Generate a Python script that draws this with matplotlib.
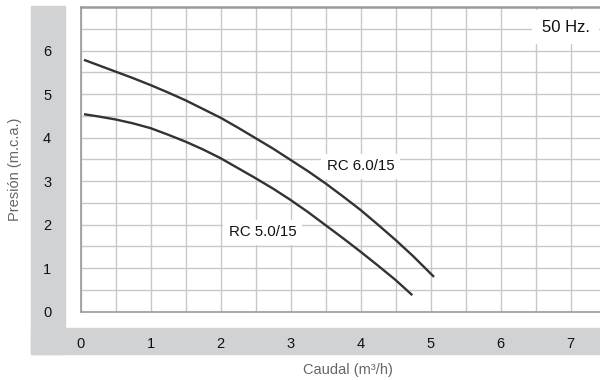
import matplotlib
matplotlib.use("Agg")
import matplotlib.pyplot as plt
from matplotlib.patches import Rectangle
import numpy as np

plt.rcParams["font.family"] = ["Liberation Sans", "DejaVu Sans"]

# curve readings (Caudal m3/h, Presion m.c.a.)
q_60 = [0.05, 0.25, 0.5, 0.75, 1.0, 1.25, 1.5, 1.75, 2.0, 2.25, 2.5,
        2.75, 3.0, 3.25, 3.5, 3.75, 4.0, 4.25, 4.5, 4.75, 5.05]
h_60 = [5.79, 5.67, 5.52, 5.37, 5.21, 5.04, 4.86, 4.66, 4.46, 4.23, 3.99,
        3.75, 3.49, 3.23, 2.95, 2.65, 2.34, 2.00, 1.65, 1.28, 0.80]
q_50 = [0.05, 0.25, 0.5, 0.75, 1.0, 1.25, 1.5, 1.75, 2.0, 2.25, 2.5,
        2.75, 3.0, 3.25, 3.5, 3.75, 4.0, 4.25, 4.5, 4.74]
h_50 = [4.54, 4.49, 4.42, 4.33, 4.22, 4.07, 3.91, 3.73, 3.53, 3.30, 3.07,
        2.83, 2.57, 2.29, 1.99, 1.69, 1.38, 1.06, 0.73, 0.38]
x_ticks = [0, 1, 2, 3, 4, 5, 6, 7]
y_ticks = [0, 1, 2, 3, 4, 5, 6]

W, H = 600, 380
fig = plt.figure(figsize=(W / 100, H / 100), dpi=100)

GRAY = "#d1d2d4"
# L-shaped grey band behind the tick labels (pixel coords -> figure fraction)
fig.patches.append(Rectangle((31 / W, 1 - 354 / H), 34 / W, 348 / H,
                             transform=fig.transFigure, color=GRAY, zorder=-1))
fig.patches.append(Rectangle((31 / W, 1 - 354 / H), 569 / W, 26 / H,
                             transform=fig.transFigure, color=GRAY, zorder=-1))

ax = fig.add_axes([80.5 / W, 1 - 311.7 / H, 519.5 / W, 304.7 / H])
ax.set_xlim(0, 519.5 / 70)
ax.set_ylim(0, 304.7 / 43.5)

ax.set_xticks(x_ticks)
ax.set_yticks(y_ticks)
ax.set_xticks(np.arange(0.5, 7.5, 1.0), minor=True)
ax.set_yticks(np.arange(0.5, 7.0, 1.0), minor=True)
ax.grid(which="both", color="#c8c8c8", lw=1.0)
ax.set_axisbelow(True)
ax.tick_params(which="both", length=0)
ax.tick_params(axis="x", pad=18, labelsize=10.5, labelcolor="#111111")
ax.tick_params(axis="y", pad=24, labelsize=10.5, labelcolor="#111111")
for lab in ax.get_yticklabels():
    lab.set_horizontalalignment("center")

for s in ["left", "bottom"]:
    ax.spines[s].set_color("#9a9a9a")
    ax.spines[s].set_linewidth(1.2)
ax.spines["top"].set_color("#9a9a9a")
ax.spines["top"].set_linewidth(1.8)
ax.spines["right"].set_visible(False)

ax.plot(q_60, h_60, color="#333333", lw=1.7, solid_capstyle="butt", zorder=3)
ax.plot(q_50, h_50, color="#333333", lw=1.7, solid_capstyle="butt", zorder=3)

box = dict(facecolor="white", edgecolor="none", pad=4)
ax.text(4.0, 3.34, "RC 6.0/15", ha="center", va="center", fontsize=10.8,
        color="#111111", bbox=box, zorder=4)
ax.text(2.6, 1.83, "RC 5.0/15", ha="center", va="center", fontsize=10.8,
        color="#111111", bbox=box, zorder=4)
ax.text(6.93, 6.54, "50 Hz.", ha="center", va="center", fontsize=12,
        color="#111111", bbox=dict(facecolor="white", edgecolor="none", pad=7), zorder=4)

fig.text(15 / W, 1 - 169 / H, "Presión (m.c.a.)", rotation=90, ha="center",
         va="center", fontsize=10.5, color="#666666")
fig.text(348 / W, 1 - 370 / H, "Caudal (m³/h)", ha="center", va="center",
         fontsize=10.5, color="#666666")

fig.savefig("out.png", dpi=100)
